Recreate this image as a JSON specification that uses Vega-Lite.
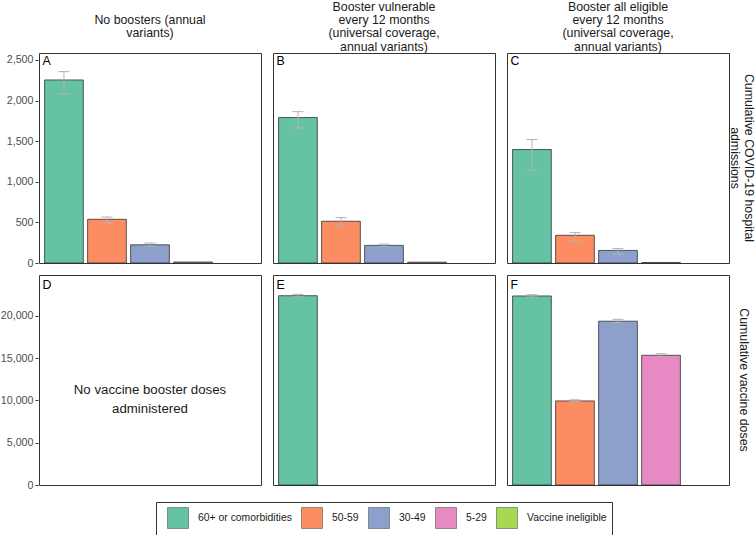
{
  "$schema": "https://vega.github.io/schema/vega-lite/v6.json",
  "padding": {"left": 0, "top": 0, "right": 2, "bottom": 0},
  "datasets": {
    "rows": [
      {"kind": "bar", "measure": "Cumulative COVID-19 hospital\nadmissions", "scenario": "No boosters (annual\nvariants)", "group": "60+ or comorbidities", "value": 2254, "lo": 2081, "hi": 2357},
      {"kind": "bar", "measure": "Cumulative COVID-19 hospital\nadmissions", "scenario": "No boosters (annual\nvariants)", "group": "50-59", "value": 538, "lo": 493, "hi": 566},
      {"kind": "bar", "measure": "Cumulative COVID-19 hospital\nadmissions", "scenario": "No boosters (annual\nvariants)", "group": "30-49", "value": 224, "lo": 206, "hi": 246},
      {"kind": "bar", "measure": "Cumulative COVID-19 hospital\nadmissions", "scenario": "No boosters (annual\nvariants)", "group": "5-29", "value": 12},
      {"kind": "bar", "measure": "Cumulative COVID-19 hospital\nadmissions", "scenario": "Booster vulnerable\nevery 12 months\n(universal coverage,\nannual variants)", "group": "60+ or comorbidities", "value": 1791, "lo": 1663, "hi": 1864},
      {"kind": "bar", "measure": "Cumulative COVID-19 hospital\nadmissions", "scenario": "Booster vulnerable\nevery 12 months\n(universal coverage,\nannual variants)", "group": "50-59", "value": 514, "lo": 456, "hi": 559},
      {"kind": "bar", "measure": "Cumulative COVID-19 hospital\nadmissions", "scenario": "Booster vulnerable\nevery 12 months\n(universal coverage,\nannual variants)", "group": "30-49", "value": 217, "lo": 203, "hi": 233},
      {"kind": "bar", "measure": "Cumulative COVID-19 hospital\nadmissions", "scenario": "Booster vulnerable\nevery 12 months\n(universal coverage,\nannual variants)", "group": "5-29", "value": 10},
      {"kind": "bar", "measure": "Cumulative COVID-19 hospital\nadmissions", "scenario": "Booster all eligible\nevery 12 months\n(universal coverage,\nannual variants)", "group": "60+ or comorbidities", "value": 1397, "lo": 1138, "hi": 1520},
      {"kind": "bar", "measure": "Cumulative COVID-19 hospital\nadmissions", "scenario": "Booster all eligible\nevery 12 months\n(universal coverage,\nannual variants)", "group": "50-59", "value": 341, "lo": 271, "hi": 374},
      {"kind": "bar", "measure": "Cumulative COVID-19 hospital\nadmissions", "scenario": "Booster all eligible\nevery 12 months\n(universal coverage,\nannual variants)", "group": "30-49", "value": 155, "lo": 110, "hi": 177},
      {"kind": "bar", "measure": "Cumulative COVID-19 hospital\nadmissions", "scenario": "Booster all eligible\nevery 12 months\n(universal coverage,\nannual variants)", "group": "5-29", "value": 5},
      {"kind": "bar", "measure": "Cumulative vaccine doses", "scenario": "Booster vulnerable\nevery 12 months\n(universal coverage,\nannual variants)", "group": "60+ or comorbidities", "value": 22400, "lo": 22260, "hi": 22560},
      {"kind": "bar", "measure": "Cumulative vaccine doses", "scenario": "Booster all eligible\nevery 12 months\n(universal coverage,\nannual variants)", "group": "60+ or comorbidities", "value": 22370, "lo": 22230, "hi": 22520},
      {"kind": "bar", "measure": "Cumulative vaccine doses", "scenario": "Booster all eligible\nevery 12 months\n(universal coverage,\nannual variants)", "group": "50-59", "value": 9950, "lo": 9860, "hi": 10080},
      {"kind": "bar", "measure": "Cumulative vaccine doses", "scenario": "Booster all eligible\nevery 12 months\n(universal coverage,\nannual variants)", "group": "30-49", "value": 19380, "lo": 19200, "hi": 19600},
      {"kind": "bar", "measure": "Cumulative vaccine doses", "scenario": "Booster all eligible\nevery 12 months\n(universal coverage,\nannual variants)", "group": "5-29", "value": 15350, "lo": 15210, "hi": 15530},
      {"kind": "letter", "measure": "Cumulative COVID-19 hospital\nadmissions", "scenario": "No boosters (annual\nvariants)", "letter": "A"},
      {"kind": "letter", "measure": "Cumulative COVID-19 hospital\nadmissions", "scenario": "Booster vulnerable\nevery 12 months\n(universal coverage,\nannual variants)", "letter": "B"},
      {"kind": "letter", "measure": "Cumulative COVID-19 hospital\nadmissions", "scenario": "Booster all eligible\nevery 12 months\n(universal coverage,\nannual variants)", "letter": "C"},
      {"kind": "letter", "measure": "Cumulative vaccine doses", "scenario": "No boosters (annual\nvariants)", "letter": "D"},
      {"kind": "letter", "measure": "Cumulative vaccine doses", "scenario": "Booster vulnerable\nevery 12 months\n(universal coverage,\nannual variants)", "letter": "E"},
      {"kind": "letter", "measure": "Cumulative vaccine doses", "scenario": "Booster all eligible\nevery 12 months\n(universal coverage,\nannual variants)", "letter": "F"},
      {"kind": "note", "measure": "Cumulative vaccine doses", "scenario": "No boosters (annual\nvariants)", "note": "No vaccine booster doses\nadministered"}
    ]
  },
  "data": {"name": "rows"},
  "config": {
    "font": "Liberation Sans",
    "view": {"stroke": "#333333", "strokeWidth": 1},
    "axis": {"grid": false, "domain": false, "tickColor": "#333333", "tickSize": 3, "labelFontSize": 10.7, "labelColor": "#4d4d4d", "labelPadding": 2, "title": null},
    "header": {"labelFontSize": 12.35, "labelColor": "#1a1a1a", "labelLineHeight": 13.3, "title": null}
  },
  "resolve": {"scale": {"y": "independent", "color": "shared"}, "legend": {"color": "shared"}},
  "spacing": 6,
  "vconcat": [
    {
      "transform": [{"filter": "datum.measure != 'Cumulative vaccine doses'"}],
      "spacing": {"column": 10, "row": 0},
      "facet": {
        "column": {"field": "scenario", "type": "nominal", "sort": ["No boosters (annual\nvariants)", "Booster vulnerable\nevery 12 months\n(universal coverage,\nannual variants)", "Booster all eligible\nevery 12 months\n(universal coverage,\nannual variants)"], "header": {"labelExpr": "length(split(datum.value, '\\n')) == 2 ? ['', split(datum.value, '\\n')[0], split(datum.value, '\\n')[1], ''] : split(datum.value, '\\n')", "labelBaseline": "bottom", "labelPadding": -14}},
        "row": {"field": "measure", "type": "nominal", "header": {"labelOrient": "right", "labelAngle": 90, "labelAlign": "center", "labelBaseline": "middle", "labelPadding": -7, "labelExpr": "split(datum.value, '\\n')"}}
      },
      "spec": {
        "width": 222,
        "height": 210,
        "layer": [
          {
            "transform": [{"filter": "datum.kind == 'bar'"}],
            "mark": {"type": "bar", "stroke": "#333333", "strokeWidth": 0.8},
            "encoding": {
              "x": {"field": "group", "type": "nominal", "scale": {"domain": ["60+ or comorbidities", "50-59", "30-49", "5-29", "Vaccine ineligible"], "paddingInner": 0.1, "paddingOuter": 0.13}, "axis": null},
              "y": {"field": "value", "type": "quantitative", "scale": {"domain": [0, 2586], "nice": false}, "axis": {"values": [0, 500, 1000, 1500, 2000, 2500], "labelExpr": "format(datum.value, ',')"}},
              "color": {"field": "group", "type": "nominal", "scale": {"domain": ["60+ or comorbidities", "50-59", "30-49", "5-29", "Vaccine ineligible"], "range": ["#66C2A5", "#FC8D62", "#8DA0CB", "#E78AC3", "#A6D854"]},
                "legend": {"orient": "none", "legendX": 117, "legendY": 449, "direction": "horizontal", "gridAlign": "none", "title": null, "symbolType": "square", "symbolSize": 441, "symbolStrokeColor": "#555555", "symbolStrokeWidth": 0.6, "symbolOpacity": 1, "symbolOffset": 6, "labelFontSize": 10.4, "labelColor": "#1a1a1a", "labelOffset": 9, "columnPadding": 3, "padding": 5, "strokeColor": "#333333", "fillColor": "white"}}
            }
          },
          {
            "transform": [{"filter": "datum.kind == 'bar' && isValid(datum.lo)"}],
            "mark": {"type": "rule", "color": "#b3b3b3", "strokeWidth": 1},
            "encoding": {
              "x": {"field": "group", "type": "nominal"},
              "y": {"field": "lo", "type": "quantitative"},
              "y2": {"field": "hi"}
            }
          },
          {
            "transform": [{"filter": "datum.kind == 'bar' && isValid(datum.lo)"}],
            "mark": {"type": "tick", "color": "#b3b3b3", "size": 11, "thickness": 1, "opacity": 1},
            "encoding": {
              "x": {"field": "group", "type": "nominal"},
              "y": {"field": "lo", "type": "quantitative"}
            }
          },
          {
            "transform": [{"filter": "datum.kind == 'bar' && isValid(datum.lo)"}],
            "mark": {"type": "tick", "color": "#b3b3b3", "size": 11, "thickness": 1, "opacity": 1},
            "encoding": {
              "x": {"field": "group", "type": "nominal"},
              "y": {"field": "hi", "type": "quantitative"}
            }
          },
          {
            "transform": [{"filter": "datum.kind == 'letter'"}],
            "mark": {"type": "text", "align": "left", "baseline": "top", "fontSize": 12.35, "color": "#000000", "dx": -2},
            "encoding": {
              "x": {"datum": "60+ or comorbidities", "type": "nominal", "bandPosition": 0},
              "y": {"datum": 2560, "type": "quantitative"},
              "text": {"field": "letter"}
            }
          }
        ]
      }
    },
    {
      "transform": [{"filter": "datum.measure == 'Cumulative vaccine doses'"}],
      "spacing": {"column": 10, "row": 0},
      "facet": {
        "column": {"field": "scenario", "type": "nominal", "sort": ["No boosters (annual\nvariants)", "Booster vulnerable\nevery 12 months\n(universal coverage,\nannual variants)", "Booster all eligible\nevery 12 months\n(universal coverage,\nannual variants)"], "header": {"labels": false, "title": null}},
        "row": {"field": "measure", "type": "nominal", "header": {"labelOrient": "right", "labelAngle": 90, "labelAlign": "center", "labelBaseline": "middle", "labelPadding": 2}}
      },
      "spec": {
        "width": 222,
        "height": 210,
        "layer": [
          {
            "transform": [{"filter": "datum.kind == 'bar'"}],
            "mark": {"type": "bar", "stroke": "#333333", "strokeWidth": 0.8},
            "encoding": {
              "x": {"field": "group", "type": "nominal", "scale": {"domain": ["60+ or comorbidities", "50-59", "30-49", "5-29", "Vaccine ineligible"], "paddingInner": 0.1, "paddingOuter": 0.13}, "axis": null},
              "y": {"field": "value", "type": "quantitative", "scale": {"domain": [0, 24850], "nice": false}, "axis": {"values": [0, 5000, 10000, 15000, 20000], "labelExpr": "format(datum.value, ',')"}},
              "color": {"field": "group", "type": "nominal", "scale": {"domain": ["60+ or comorbidities", "50-59", "30-49", "5-29", "Vaccine ineligible"], "range": ["#66C2A5", "#FC8D62", "#8DA0CB", "#E78AC3", "#A6D854"]},
                "legend": {"orient": "none", "legendX": 117, "legendY": 449, "direction": "horizontal", "gridAlign": "none", "title": null, "symbolType": "square", "symbolSize": 441, "symbolStrokeColor": "#555555", "symbolStrokeWidth": 0.6, "symbolOpacity": 1, "symbolOffset": 6, "labelFontSize": 10.4, "labelColor": "#1a1a1a", "labelOffset": 9, "columnPadding": 3, "padding": 5, "strokeColor": "#333333", "fillColor": "white"}}
            }
          },
          {
            "transform": [{"filter": "datum.kind == 'bar' && isValid(datum.lo)"}],
            "mark": {"type": "rule", "color": "#b3b3b3", "strokeWidth": 1},
            "encoding": {
              "x": {"field": "group", "type": "nominal"},
              "y": {"field": "lo", "type": "quantitative"},
              "y2": {"field": "hi"}
            }
          },
          {
            "transform": [{"filter": "datum.kind == 'bar' && isValid(datum.lo)"}],
            "mark": {"type": "tick", "color": "#b3b3b3", "size": 11, "thickness": 1, "opacity": 1},
            "encoding": {
              "x": {"field": "group", "type": "nominal"},
              "y": {"field": "lo", "type": "quantitative"}
            }
          },
          {
            "transform": [{"filter": "datum.kind == 'bar' && isValid(datum.lo)"}],
            "mark": {"type": "tick", "color": "#b3b3b3", "size": 11, "thickness": 1, "opacity": 1},
            "encoding": {
              "x": {"field": "group", "type": "nominal"},
              "y": {"field": "hi", "type": "quantitative"}
            }
          },
          {
            "transform": [{"filter": "datum.kind == 'letter'"}],
            "mark": {"type": "text", "align": "left", "baseline": "top", "fontSize": 12.35, "color": "#000000", "dx": -2},
            "encoding": {
              "x": {"datum": "60+ or comorbidities", "type": "nominal", "bandPosition": 0},
              "y": {"datum": 24370, "type": "quantitative"},
              "text": {"field": "letter"}
            }
          },
          {
            "transform": [{"filter": "datum.kind == 'note'"}],
            "mark": {"type": "text", "align": "center", "baseline": "middle", "fontSize": 13.25, "lineHeight": 19, "lineBreak": "\n", "color": "#1a1a1a"},
            "encoding": {
              "x": {"datum": "30-49", "type": "nominal"},
              "y": {"datum": 11300, "type": "quantitative"},
              "text": {"field": "note"}
            }
          }
        ]
      }
    }
  ]
}
